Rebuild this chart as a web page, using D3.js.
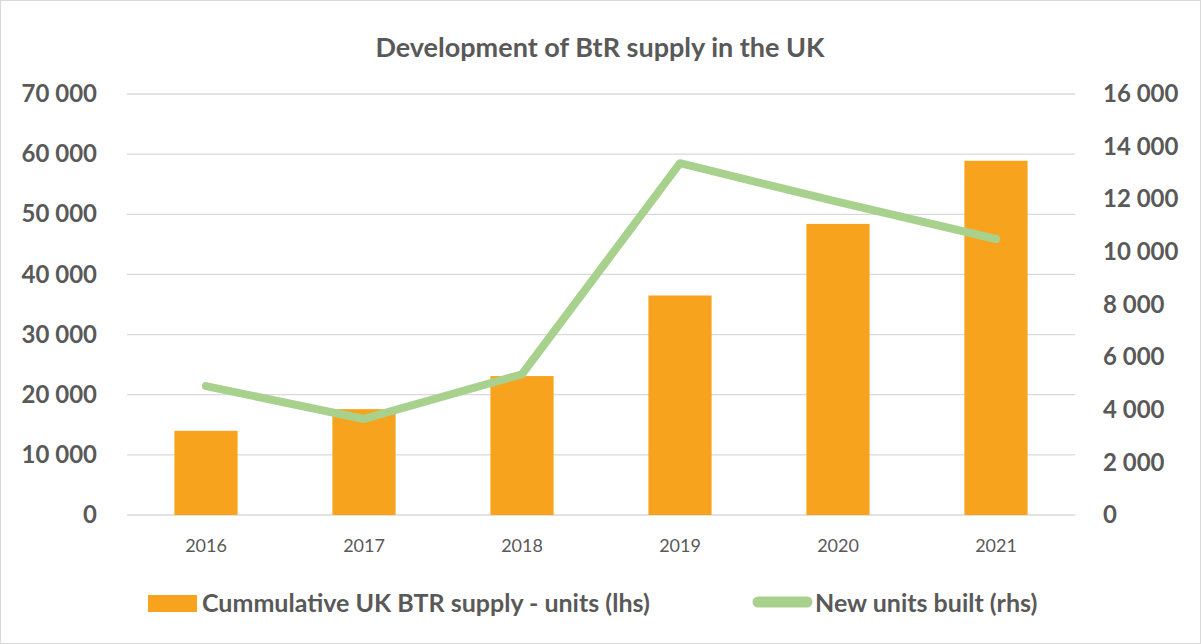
<!DOCTYPE html>
<html><head><meta charset="utf-8">
<script src="https://cdn.jsdelivr.net/npm/d3@7"></script>
<style>body{margin:0;background:#fff}svg{display:block}</style>
</head><body>
<script>
const years = ["2016","2017","2018","2019","2020","2021"];
const cumulativeSupply = [14000, 17600, 23100, 36500, 48400, 58900];
const newUnits = [4900, 3650, 5350, 13370, 11900, 10490];
const leftTicks = [0,10000,20000,30000,40000,50000,60000,70000];
const rightTicks = [0,2000,4000,6000,8000,10000,12000,14000,16000];
const title = "Development of BtR supply in the UK";
const seriesNames = ["Cummulative UK BTR supply - units (lhs)", "New units built (rhs)"];

const W = 1201, H = 644;
const font = "Lato, 'Open Sans', sans-serif";
const txt = "#595959";
const svg = d3.select("body").append("svg").attr("width", W).attr("height", H);
svg.append("rect").attr("x",0.5).attr("y",0.5).attr("width",W-1).attr("height",H-1)
  .attr("fill","#fff").attr("stroke","#d9d9d9");

const m = {l:127, r:1075, t:94, b:515};
const x = d3.scaleBand().domain(years).range([m.l, m.r]);
const yL = d3.scaleLinear().domain([0,70000]).range([m.b, m.t]);
const yR = d3.scaleLinear().domain([0,16000]).range([m.b, m.t]);
const fmt = v => d3.format(",")(v).replace(/,/g, " ");

// gridlines
svg.append("g").selectAll("line").data(leftTicks).join("line")
  .attr("x1", m.l).attr("x2", m.r)
  .attr("y1", d => yL(d)).attr("y2", d => yL(d))
  .attr("stroke", "#d9d9d9").attr("stroke-width", 1.3);

// left axis
const la = svg.append("g").attr("transform", `translate(${m.l},0)`)
  .call(d3.axisLeft(yL).tickValues(leftTicks).tickFormat(fmt).tickSize(0).tickPadding(30));
la.select(".domain").remove();
la.selectAll("text").attr("font-family", font).attr("font-weight","bold").attr("font-size", 24).attr("fill", txt);

// right axis
const ra = svg.append("g").attr("transform", `translate(${m.r},0)`)
  .call(d3.axisRight(yR).tickValues(rightTicks).tickFormat(fmt).tickSize(0).tickPadding(28));
ra.select(".domain").remove();
ra.selectAll("text").attr("font-family", font).attr("font-weight","bold").attr("font-size", 24).attr("fill", txt);

// bottom axis
const ba = svg.append("g").attr("transform", `translate(0,${m.b})`)
  .call(d3.axisBottom(x).tickSize(0).tickPadding(24));
ba.select(".domain").remove();
ba.selectAll("text").attr("font-family", font).attr("font-size", 18).attr("fill", txt);

// bars
const bw = x.bandwidth()*0.4;
svg.append("g").selectAll("rect").data(years).join("rect")
  .attr("x", (d) => x(d) + x.bandwidth()/2 - bw/2)
  .attr("width", bw)
  .attr("y", (d,i) => yL(cumulativeSupply[i]))
  .attr("height", (d,i) => yL(0) - yL(cumulativeSupply[i]))
  .attr("fill", "#F8A31E");

// line
const line = d3.line().x((d,i) => x(years[i]) + x.bandwidth()/2).y(d => yR(d));
svg.append("path").datum(newUnits).attr("d", line)
  .attr("fill","none").attr("stroke","#A9D18E").attr("stroke-width",8)
  .attr("stroke-linejoin","round").attr("stroke-linecap","round");

// title
svg.append("text").attr("x", 600).attr("y", 57).attr("text-anchor","middle")
  .attr("font-family", font).attr("font-weight","bold").attr("font-size", 27).attr("fill", txt)
  .text(title);

// legend
const lg = svg.append("g").attr("font-family", font).attr("font-weight","bold").attr("font-size", 25).attr("fill", txt);
lg.append("rect").attr("x",148).attr("y",595).attr("width",49).attr("height",17).attr("fill","#F8A31E");
lg.append("text").attr("x",202).attr("y",612).text(seriesNames[0]);
lg.append("line").attr("x1",758).attr("x2",807).attr("y1",602).attr("y2",602)
  .attr("stroke","#A9D18E").attr("stroke-width",11).attr("stroke-linecap","round");
lg.append("text").attr("x",815).attr("y",612).text(seriesNames[1]);
</script>
</body></html>
